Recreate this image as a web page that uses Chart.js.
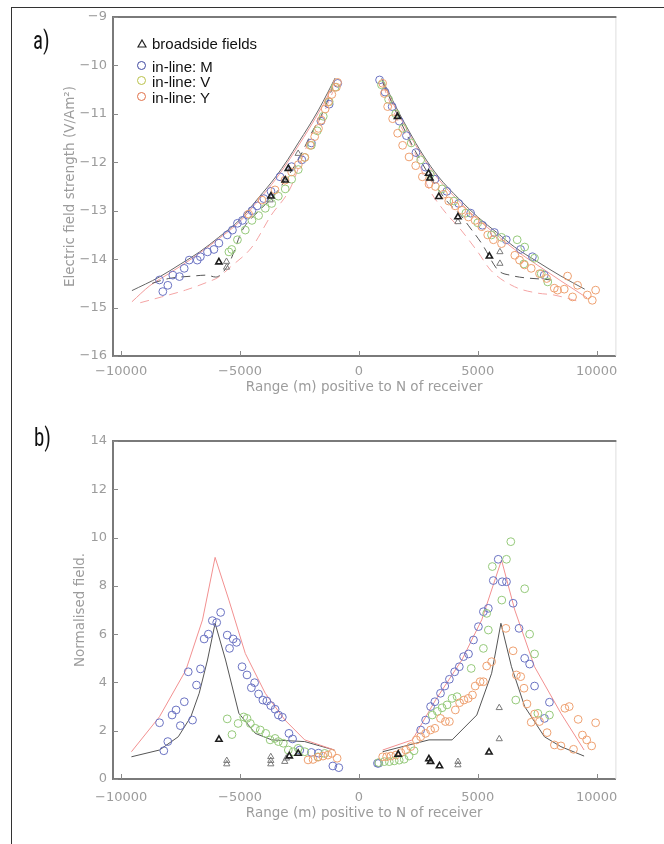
<!DOCTYPE html>
<html><head><meta charset="utf-8">
<script src="https://cdn.jsdelivr.net/npm/chart.js@4.4.1/dist/chart.umd.min.js"></script>
<style>
html,body{margin:0;padding:0;background:#fff;width:664px;height:844px;overflow:hidden;position:relative;}
#frame{position:absolute;left:11px;top:7px;width:700px;height:900px;border-left:1.5px solid #333;border-top:1.5px solid #333;box-sizing:border-box;}
canvas{position:absolute;left:0;}
#ca{top:0;} #cb{top:420px;}
.lab{position:absolute;font-family:'Liberation Sans Narrow','Roboto Condensed','Liberation Sans',sans-serif;font-size:26px;color:#111;transform:scaleX(0.8);transform-origin:left top;line-height:26px;}
.leg{position:absolute;left:152px;font-family:'Liberation Sans',Arial,sans-serif;font-size:15px;line-height:17px;color:#111;white-space:nowrap;}
.sym{position:absolute;width:7px;height:7px;border-radius:50%;border:1.3px solid;}
.cut{position:absolute;left:619px;width:45px;height:18px;background:#fff;}
</style></head>
<body>
<div id="frame"></div>
<canvas id="ca" width="621" height="420"></canvas>
<canvas id="cb" width="621" height="424"></canvas>
<div class="cut" style="top:360px;"></div>
<div class="cut" style="top:786px;"></div>
<div class="lab" style="left:33px;top:27px;">a)</div>
<div class="lab" style="left:34px;top:424px;">b)</div>
<svg style="position:absolute;left:137px;top:39px" width="10" height="9"><polygon points="5,1 9,8 1,8" fill="none" stroke="#222" stroke-width="1.2"/></svg>
<div class="leg" style="top:35px;">broadside fields</div>
<div class="sym" style="left:137px;top:61px;border-color:#3f48a0"></div>
<div class="leg" style="top:58px;">in-line: M</div>
<div class="sym" style="left:137px;top:76px;border-color:#b8c048"></div>
<div class="leg" style="top:73px;">in-line: V</div>
<div class="sym" style="left:137px;top:92px;border-color:#e07048"></div>
<div class="leg" style="top:89px;">in-line: Y</div>
<script>
// ---------- axis ticks ----------
const xTickValues = [-10000, -5000, 0, 5000, 10000];
const xTickLabels = ['−10000', '−5000', '0', '5000', '10000'];
const yTicksA = [-16, -15, -14, -13, -12, -11, -10, -9];
const yTicksB = [0, 2, 4, 6, 8, 10, 12, 14];

// ---------- panel a : electric field strength (log10) ----------
const aSolidBlackL = [[-9550,-14.65],[-8400,-14.37],[-7500,-14.1],[-6700,-13.85],[-5900,-13.55],[-5000,-13.18],[-4200,-12.72],[-3500,-12.3],[-3000,-11.95],[-2550,-11.6],[-2100,-11.25],[-1700,-10.92],[-1300,-10.55],[-1000,-10.26]];
const aSolidBlackR = [[950,-10.27],[1300,-10.6],[1550,-10.85],[2100,-11.35],[2700,-11.85],[3350,-12.3],[4200,-12.75],[5000,-13.13],[5800,-13.45],[6550,-13.75],[7500,-14.05],[8500,-14.35],[9500,-14.62]];
const aSolidRedL = [[-9550,-14.88],[-8800,-14.55],[-8000,-14.3],[-7000,-13.98],[-5900,-13.58],[-5000,-13.22],[-4200,-12.77],[-3500,-12.35],[-3000,-12.0],[-2550,-11.66],[-2100,-11.31],[-1700,-10.98],[-1300,-10.62],[-1050,-10.33]];
const aSolidRedR = [[1000,-10.33],[1300,-10.65],[1550,-10.9],[2100,-11.4],[2700,-11.9],[3350,-12.35],[4200,-12.8],[5000,-13.18],[5800,-13.5],[6550,-13.8],[7500,-14.12],[8500,-14.45],[9600,-14.8]];
const aDashRedL = [[-9200,-14.9],[-8300,-14.78],[-7300,-14.64],[-6400,-14.48],[-5900,-14.37],[-5400,-14.16],[-4500,-13.75],[-3700,-13.1],[-2900,-12.55],[-2300,-11.8],[-1900,-11.33],[-1500,-11.0],[-1100,-10.55]];
const aDashRedR = [[1000,-10.4],[1600,-11.1],[2400,-11.85],[2900,-12.5],[3500,-12.95],[4300,-13.4],[5000,-13.85],[5550,-14.23],[6550,-14.57],[7500,-14.7],[8200,-14.74],[9300,-14.88]];
const aDashBlackL = [[-8700,-14.5],[-8000,-14.4],[-7000,-14.35],[-6400,-14.33],[-6030,-14.37],[-5470,-14.09],[-4900,-13.4],[-4200,-13.0],[-3600,-12.7],[-3000,-12.3],[-2500,-11.9],[-2000,-11.4],[-1500,-10.95],[-1100,-10.45]];
const aDashBlackR = [[1000,-10.35],[1600,-11.0],[2300,-11.7],[3000,-12.3],[3700,-12.8],[4300,-13.1],[4600,-13.3],[5170,-13.68],[5860,-14.23],[6350,-14.33],[8100,-14.43]];

const aM = [[-8250,-14.67],[-8040,-14.54],[-8390,-14.43],[-7830,-14.33],[-7550,-14.36],[-7350,-14.19],[-7140,-14.02],[-6800,-14.02],[-6670,-13.95],[-6370,-13.85],[-6100,-13.8],[-5890,-13.67],[-5540,-13.5],[-5320,-13.4],[-5110,-13.26],[-4900,-13.2],[-4690,-13.09],[-4500,-13.0],[-4280,-12.9],[-4000,-12.75],[-3700,-12.6],[-3320,-12.3],[-2830,-12.09],[-2400,-11.95],[-2000,-11.6],[-1600,-11.15],[-1250,-10.8],[-890,-10.37],
  [870,-10.3],[1100,-10.55],[1400,-10.85],[1700,-11.15],[2000,-11.45],[2400,-11.8],[2800,-12.1],[3200,-12.35],[3700,-12.6],[4200,-12.85],[4700,-13.05],[5200,-13.3],[5700,-13.45],[6200,-13.6],[6800,-13.8],[7300,-13.95],[7800,-14.33]];
const aV = [[-5470,-13.85],[-5350,-13.8],[-5110,-13.6],[-4780,-13.4],[-4500,-13.2],[-4220,-13.1],[-3940,-12.95],[-3670,-12.85],[-3390,-12.7],[-3100,-12.55],[-2830,-12.35],[-2550,-12.15],[-2280,-11.9],[-2000,-11.65],[-1750,-11.35],[-1500,-11.05],[-1250,-10.75],[-1000,-10.45],
  [950,-10.4],[1250,-10.7],[1550,-11.0],[1850,-11.3],[2200,-11.6],[2600,-11.95],[3000,-12.25],[3500,-12.55],[4000,-12.8],[4500,-13.05],[5000,-13.25],[5580,-13.5],[6000,-13.55],[6660,-13.6],[6975,-13.75],[6940,-14.1],[7390,-13.98],[7670,-14.3],[7945,-14.47]];
const aY = [[-4640,-13.07],[-4080,-12.78],[-3530,-12.57],[-3110,-12.37],[-2830,-12.2],[-2550,-12.05],[-2275,-11.9],[-2050,-11.65],[-1860,-11.47],[-1700,-11.3],[-1580,-11.13],[-1420,-10.9],[-1280,-10.75],[-1140,-10.6],[-950,-10.45],[-900,-10.35],
  [1000,-10.37],[1070,-10.58],[1210,-10.85],[1420,-11.1],[1630,-11.4],[1840,-11.65],[2110,-11.89],[2390,-12.07],[2670,-12.3],[2950,-12.45],[3220,-12.5],[3560,-12.66],[3780,-12.8],[4050,-12.9],[4330,-12.99],[4610,-13.13],[4890,-13.2],[5170,-13.33],[5420,-13.5],[5660,-13.6],[6000,-13.68],[6560,-13.92],[6760,-14.02],[6970,-14.12],[7250,-14.19],[7600,-14.3],[7900,-14.4],[8220,-14.6],[8360,-14.64],[8640,-14.62],[8780,-14.35],[8990,-14.78],[9200,-14.54],[9610,-14.74],[9820,-14.85],[9960,-14.64]];
const aBroadDark = [[-5890,-14.06],[-3700,-12.7],[-3100,-12.37],[-2970,-12.13],[1625,-11.06],[2933,-12.23],[2990,-12.33],[3363,-12.71],[4167,-13.13],[5490,-13.94]];
const aBroadLight = [[-5570,-14.17],[-5570,-14.05],[-3735,-12.78],[-2555,-11.82],[4167,-13.23],[5933,-13.85],[5933,-14.09]];

// ---------- panel b : normalised field ----------
const bRedL = [[-9570,1.13],[-8390,2.58],[-7280,4.51],[-6580,6.59],[-6050,9.18],[-5470,7.41],[-4780,5.2],[-3940,3.55],[-3110,2.44],[-2280,1.62],[-1030,1.2]];
const bRedR = [[1000,1.2],[2250,1.62],[3225,3.27],[4333,4.93],[5167,6.59],[6000,9.07],[6558,7.0],[7390,4.65],[8500,2.72],[9475,1.2]];
const bBlackL = [[-9570,0.92],[-8390,1.2],[-7600,1.75],[-7070,2.58],[-6720,3.55],[-6370,4.93],[-6050,6.45],[-5610,4.93],[-5050,2.72],[-4360,1.89],[-3670,1.62],[-2280,1.55],[-1030,1.2]];
const bBlackR = [[1000,1.13],[2950,1.62],[3920,1.62],[4960,2.65],[5585,4.38],[5975,6.45],[6420,4.65],[6975,3.0],[7806,1.75],[8500,1.34],[9475,0.95]];

const bM = [[-8388,2.33],[-8208,1.17],[-8040,1.55],[-7860,2.65],[-7693,2.86],[-7513,2.21],[-7346,3.2],[-7180,4.44],[-7000,2.44],[-6833,3.89],[-6666,4.56],[-6512,5.8],[-6333,6.0],[-6166,6.56],[-5983,6.48],[-5817,6.9],[-5540,5.96],[-5443,5.41],[-5290,5.8],[-5150,5.66],[-4916,4.65],[-4708,4.31],[-4525,3.78],[-4388,3.99],[-4221,3.52],[-4041,3.27],[-3875,3.23],[-3708,3.04],[-3526,2.89],[-3388,2.65],[-3221,2.56],[-2943,1.89],[-2790,1.66],[-2485,1.2],[-2000,1.1],[-1700,1.07],[-1096,0.54],[-846,0.47],
  [780,0.65],[833,0.65],[2600,2.03],[2808,2.44],[3016,3.0],[3196,3.2],[3433,3.55],[3612,3.85],[3808,4.13],[4029,4.44],[4225,4.65],[4404,5.07],[4612,5.18],[4821,5.76],[5029,6.31],[5238,6.93],[5446,7.07],[5655,8.22],[5863,9.1],[6030,8.17],[6209,8.17],[6488,7.28],[6738,6.24],[6975,5.0],[7183,4.76],[7391,3.85],[7808,2.51],[8017,3.18]];
const bV = [[-5540,2.49],[-5340,1.84],[-5082,2.3],[-4846,2.57],[-4708,2.51],[-4568,2.3],[-4360,2.1],[-4150,2.03],[-3920,1.89],[-3735,1.62],[-3527,1.68],[-3388,1.55],[-3180,1.48],[-2970,1.2],[-2763,1.13],[-2555,1.27],[-2275,1.13],[-1720,0.92],[-1440,1.06],
  [833,0.68],[1070,0.72],[1278,0.72],[1487,0.75],[1696,0.78],[1904,0.82],[2113,0.95],[2321,1.17],[3085,2.65],[3300,2.8],[3500,2.95],[3710,3.07],[3920,3.34],[4130,3.41],[4725,4.58],[5238,5.41],[5446,6.17],[5376,6.86],[5613,8.8],[6012,7.41],[6209,9.1],[6391,9.83],[6975,7.88],[7183,6.0],[7391,5.18],[6600,3.27],[7530,2.72],[8017,2.65]];
const bY = [[-2138,0.79],[-1930,0.81],[-1720,0.9],[-1510,0.95],[-1304,0.99],[-1140,1.06],[-916,0.86],
  [1000,0.92],[1167,0.92],[1348,0.95],[1556,0.99],[1765,1.09],[1973,1.2],[2181,1.34],[2417,1.62],[2598,1.75],[2806,1.89],[3016,2.03],[3196,2.1],[3433,2.51],[3640,2.38],[3808,2.38],[4058,2.86],[4237,3.16],[4420,3.27],[4600,3.34],[4779,3.48],[4892,3.85],[5100,4.03],[5238,4.03],[5376,4.68],[5585,4.86],[6184,6.24],[6488,5.31],[6627,4.31],[6808,4.24],[6946,3.76],[7071,3.11],[7250,2.35],[7392,2.69],[7600,2.38],[7917,1.92],[8225,1.41],[8500,1.37],[8667,2.93],[8850,3.0],[9030,1.23],[9225,2.47],[9405,1.82],[9585,1.62],[9793,1.37],[9960,2.33]];
const bBroadDark = [[-5888,1.64],[-2930,0.95],[-2555,1.06],[1654,1.02],[2946,0.83],[3016,0.72],[3391,0.54],[5475,1.11]];
const bBroadLight = [[-5560,0.76],[-5560,0.62],[-3708,0.92],[-3708,0.76],[-3708,0.62],[-3120,0.72],[-3050,0.86],[4167,0.72],[4167,0.58],[5905,1.66],[5905,2.95]];

// ---------- helpers ----------
const pts = a => a.map(([x, y]) => ({x, y}));
const AXIS_GREY = '#9c9c9c';
const tickFont = {family: 'DejaVu Sans', size: 13};
const titleFont = {family: 'DejaVu Sans', size: 13.5};
const colM = '#6a72c2', colV = '#95c97a', colY = '#eea070';

function lineDs(data, color, dash, smooth) {
  const d = {type: 'scatter', data: pts(data), showLine: true, borderColor: color, borderWidth: 1,
    borderDash: dash || [], pointRadius: 0, fill: false, tension: 0};
  if (smooth) { d.cubicInterpolationMode = 'monotone'; d.tension = 0.4; }
  return d;
}
function circDs(data, color) {
  return {type: 'scatter', data: pts(data), showLine: false, pointStyle: 'circle', pointRadius: 3.9,
    borderColor: color, backgroundColor: 'rgba(0,0,0,0)', pointBorderWidth: 1};
}
function triDs(data, color, w) {
  return {type: 'scatter', data: pts(data), showLine: false, pointStyle: 'triangle', pointRadius: 3.6,
    borderColor: color, backgroundColor: 'rgba(0,0,0,0)', pointBorderWidth: w};
}

const framePlugin = {
  id: 'frameTicks',
  afterDatasetsDraw(chart) {
    const {ctx, chartArea: {left, right, top, bottom}, scales: {x, y}} = chart;
    ctx.save();
    ctx.strokeStyle = '#dedede'; ctx.lineWidth = 1;
    ctx.beginPath(); ctx.moveTo(right + 0.5, top); ctx.lineTo(right + 0.5, bottom); ctx.stroke();
    ctx.strokeStyle = '#7a7a7a'; ctx.lineWidth = 2;
    ctx.beginPath(); ctx.moveTo(left - 1, top); ctx.lineTo(right + 1, top); ctx.stroke();
    ctx.strokeStyle = '#8a8a8a'; ctx.lineWidth = 1;
    ctx.beginPath();
    x.ticks.forEach(t => { const p = Math.round(x.getPixelForValue(t.value)) + 0.5; ctx.moveTo(p, bottom); ctx.lineTo(p, bottom - 5); });
    y.ticks.forEach(t => { const p = Math.round(y.getPixelForValue(t.value)) + 0.5; ctx.moveTo(left, p); ctx.lineTo(left + 5, p); });
    ctx.stroke();
    ctx.restore();
  }
};

function makeChart(id, datasets, yMin, yMax, yTicks, yTitle, yTitlePad, padTop, xHeight, xLabelPad, xTitlePad) {
  return new Chart(document.getElementById(id), {
    type: 'scatter',
    data: {datasets},
    plugins: [framePlugin],
    options: {
      responsive: false, animation: false, devicePixelRatio: 1,
      layout: {padding: {top: padTop, right: 1, left: 0, bottom: 0}},
      plugins: {legend: {display: false}, tooltip: {enabled: false}},
      scales: {
        x: {
          type: 'linear', min: -10346, max: 10792,
          afterBuildTicks: s => { s.ticks = xTickValues.map(v => ({value: v})); },
          ticks: {callback: (v, i) => xTickLabels[i], color: AXIS_GREY, font: tickFont, padding: xLabelPad, maxRotation: 0, autoSkip: false},
          grid: {display: false, drawTicks: false},
          border: {display: true, color: '#7a7a7a', width: 2},
          title: {display: true, text: 'Range (m) positive to N of receiver', color: AXIS_GREY, font: titleFont, padding: {top: 0, bottom: xTitlePad}},
          afterFit: s => { s.height = xHeight; s.paddingLeft = 0; s.paddingRight = 0; }
        },
        y: {
          type: 'linear', min: yMin, max: yMax,
          afterBuildTicks: s => { s.ticks = yTicks.map(v => ({value: v})); },
          ticks: {callback: v => String(v).replace('-', '−'), color: AXIS_GREY, font: tickFont, padding: 6, autoSkip: false},
          grid: {display: false, drawTicks: false},
          border: {display: true, color: '#7a7a7a', width: 2},
          title: {display: true, text: yTitle, color: AXIS_GREY, font: titleFont, padding: {top: yTitlePad, bottom: 0}},
          afterFit: s => { s.width = 113; s.paddingTop = 0; s.paddingBottom = 0; }
        }
      }
    }
  });
}

makeChart('ca', [
  triDs(aBroadDark, '#1e1e1e', 1.6),
  triDs(aBroadLight, '#7a7a7a', 1),
  circDs(aY, colY),
  circDs(aV, colV),
  circDs(aM, colM),
  lineDs(aDashBlackL, '#555', [9, 6], true), lineDs(aDashBlackR, '#555', [9, 6], true),
  lineDs(aDashRedL, '#f4a4a4', [9, 6], true), lineDs(aDashRedR, '#f4a4a4', [9, 6], true),
  lineDs(aSolidRedL, '#f29a9a', null, true), lineDs(aSolidRedR, '#f29a9a', null, true),
  lineDs(aSolidBlackL, '#666', null, true), lineDs(aSolidBlackR, '#666', null, true)
], -16, -9, yTicksA, 'Electric field strength (V/Am²)', 62, 17, 64, 8, 24);

makeChart('cb', [
  triDs(bBroadDark, '#1e1e1e', 1.6),
  triDs(bBroadLight, '#7a7a7a', 1),
  circDs(bY, colY),
  circDs(bV, colV),
  circDs(bM, colM),
  lineDs(bRedL, '#f29090'), lineDs(bRedR, '#f29090'),
  lineDs(bBlackL, '#555'), lineDs(bBlackR, '#555')
], 0, 14, yTicksB, 'Normalised field.', 72, 21, 65, 11, 22);
</script>
</body></html>
